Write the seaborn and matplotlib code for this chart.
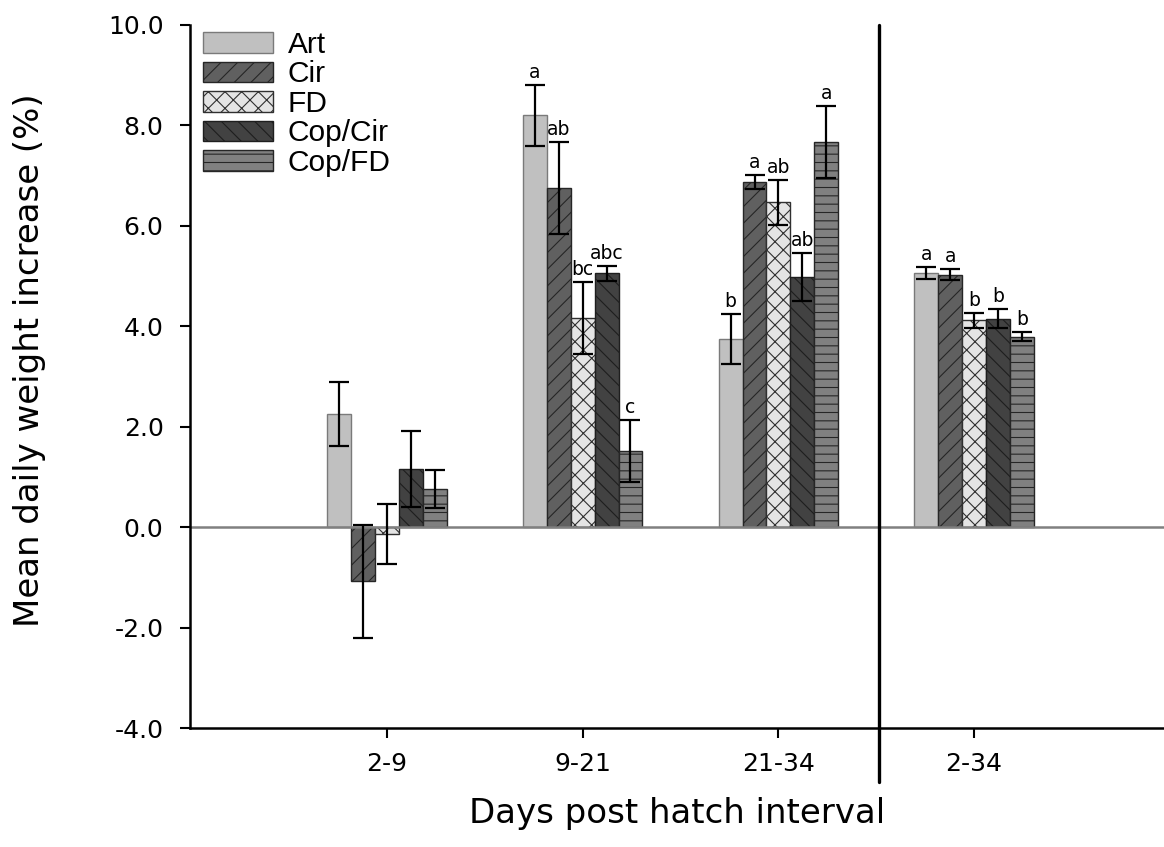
import matplotlib
matplotlib.use("Agg")
import matplotlib.pyplot as plt
import seaborn as sns
import pandas as pd
import numpy as np
from matplotlib.patches import Patch

# ---- data ----
intervals = ["2-9", "9-21", "21-34", "2-34"]
diets = ["Art", "Cir", "FD", "Cop/Cir", "Cop/FD"]
art_mean = [2.25, 8.20, 3.74, 5.06]
art_err = [0.64, 0.60, 0.50, 0.12]
cir_mean = [-1.08, 6.75, 6.88, 5.03]
cir_err = [1.12, 0.92, 0.14, 0.11]
fd_mean = [-0.13, 4.17, 6.47, 4.12]
fd_err = [0.60, 0.72, 0.45, 0.15]
copcir_mean = [1.16, 5.06, 4.98, 4.15]
copcir_err = [0.75, 0.15, 0.48, 0.19]
copfd_mean = [0.76, 1.52, 7.67, 3.79]
copfd_err = [0.37, 0.62, 0.71, 0.09]
letters_art = ["", "a", "b", "a"]
letters_cir = ["", "ab", "a", "a"]
letters_fd = ["", "bc", "ab", "b"]
letters_copcir = ["", "abc", "ab", "b"]
letters_copfd = ["", "c", "a", "b"]
yticks = [-4.0, -2.0, 0.0, 2.0, 4.0, 6.0, 8.0, 10.0]

means = [art_mean, cir_mean, fd_mean, copcir_mean, copfd_mean]
errs = [art_err, cir_err, fd_err, copcir_err, copfd_err]
letters = [letters_art, letters_cir, letters_fd, letters_copcir, letters_copfd]

rows = []
for d, m, e, l in zip(diets, means, errs, letters):
    for i, iv in enumerate(intervals):
        rows.append({"Interval": iv, "Diet": d, "Mean": m[i], "Err": e[i], "Letter": l[i]})
df = pd.DataFrame(rows)

# ---- styles ----
face = ["#c0c0c0", "#606060", "#e4e4e4", "#424242", "#808080"]
hatches = ["", "//", "xx", "\\\\", "--"]
edge = ["#7a7a7a", "#262626", "#303030", "#1e1e1e", "#262626"]

sns.set_style("white")
plt.rcParams["font.family"] = ["DejaVu Sans"]
plt.rcParams["axes.unicode_minus"] = False
plt.rcParams["hatch.linewidth"] = 0.8
plt.rcParams["text.color"] = "black"
plt.rcParams["xtick.color"] = "black"
plt.rcParams["ytick.color"] = "black"
plt.rcParams["axes.labelcolor"] = "black"

W, H = 1164, 847
fig = plt.figure(figsize=(W / 100, H / 100), dpi=100)
ax_l, ax_t, ax_b = 190, 25, 728
ax = fig.add_axes([ax_l / W, (H - ax_b) / H, 1 - ax_l / W, (ax_b - ax_t) / H])

sns.barplot(data=df, x="Interval", y="Mean", hue="Diet", order=intervals,
            hue_order=diets, palette=face, width=0.61, gap=0,
            errorbar=None, legend=False, ax=ax, linewidth=1.0, saturation=1)

bar_containers = list(ax.containers)
for ci, cont in enumerate(bar_containers):
    sub = df[df["Diet"] == diets[ci]].set_index("Interval").loc[intervals]
    for j, p in enumerate(cont.patches):
        p.set_hatch(hatches[ci])
        p.set_edgecolor(edge[ci])
        p.set_facecolor(face[ci])
        xc = p.get_x() + p.get_width() / 2
        m = sub["Mean"].iloc[j]
        e = sub["Err"].iloc[j]
        ax.errorbar(xc, m, yerr=e, fmt="none", ecolor="black", elinewidth=1.6,
                    capsize=7.5, capthick=1.6, zorder=5)
        lt = sub["Letter"].iloc[j]
        if lt:
            ax.text(xc, m + e + 0.06, lt, ha="center", va="bottom", fontsize=13.5,
                    color="black", zorder=6)

ax.axhline(0, color="#808080", lw=1.8, zorder=1)
ax.axvline(2.514, ymin=-(782 - ax_b) / (ax_b - ax_t), ymax=1.0, color="black",
           lw=2.4, clip_on=False, zorder=6)

ax.set_ylim(-4, 10)
ax.set_xlim(-(387 - ax_l) / 195.7, (W - 387) / 195.7)
ax.set_yticks(yticks)
ax.set_yticklabels([f"{v:.1f}" for v in yticks])
ax.tick_params(axis="both", direction="out", length=7, width=1.5,
               labelsize=18, left=True, bottom=True)
ax.tick_params(axis="y", pad=12)
ax.tick_params(axis="x", pad=10)
for s in ["top", "right"]:
    ax.spines[s].set_visible(False)
for s in ["left", "bottom"]:
    ax.spines[s].set_color("black")
    ax.spines[s].set_linewidth(1.8)

ax.set_xlabel("Days post hatch interval", fontsize=24.5)
ax.xaxis.set_label_coords(0.5, -(797 - ax_b) / (ax_b - ax_t))
ax.set_ylabel("Mean daily weight increase (%)", fontsize=24.5)
ax.yaxis.set_label_coords(-(190 - 46) / (W - ax_l), (ax_b - 360) / (ax_b - ax_t))

handles = [Patch(facecolor=face[i], edgecolor=edge[i], hatch=hatches[i], label=diets[i])
           for i in range(len(diets))]
ax.legend(handles=handles, loc="upper left", bbox_to_anchor=(203 / W, 1 - 31 / H),
          bbox_transform=fig.transFigure, frameon=False,
          handlelength=2.34, handleheight=0.7, labelspacing=0.05, handletextpad=0.5,
          borderpad=0.0, borderaxespad=0.0,
          prop={"family": "Liberation Sans", "size": 21.5})

fig.savefig("out.png", dpi=100)
